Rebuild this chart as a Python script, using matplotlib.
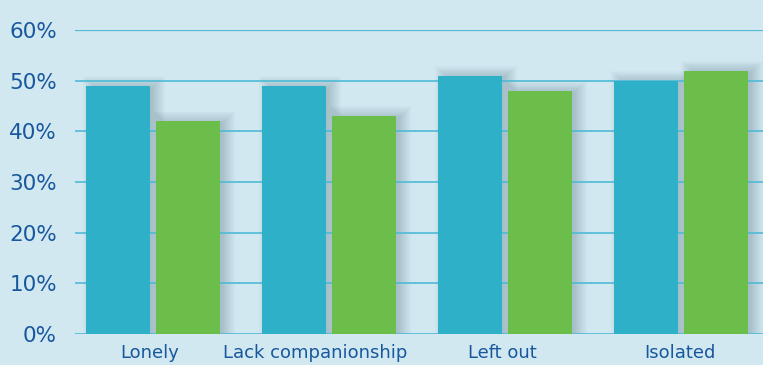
import numpy as np
import matplotlib
matplotlib.use("Agg")
import matplotlib.pyplot as plt
import matplotlib.transforms as mtransforms

categories = ["Lonely", "Lack companionship", "Left out", "Isolated"]
blue_vals = [49, 49, 51, 50]
green_vals = [42, 43, 48, 52]
yticks = [0, 10, 20, 30, 40, 50, 60]

bg = "#d2e8f0"
blue = "#2fb0c9"
green = "#6cbe4a"
grid_col = "#4fbad6"
text_col = "#17579e"

plt.rcParams['font.family'] = ['DejaVu Sans']

fig = plt.figure(figsize=(7.63, 3.65), dpi=100, facecolor=bg)
ax = fig.add_axes([75/763, 1 - 334/365, 1 - 75/763, (334 - 30)/365])
ax.set_facecolor(bg)

x = np.arange(len(categories))
w = 64/176
off = 35/176

# blurred shadow: many faint bars, each a bit bigger, shifted up/right
px = 1/176
py = 60/304
for vals, xc in [(blue_vals, x - off), (green_vals, x + off)]:
    for k in range(14):
        ax.bar(xc + 6*px, np.array(vals) + (k*0.9 - 2)*py, width=w - 8*px + 2*k*px,
               color="#6a8592", alpha=0.03, zorder=2, linewidth=0)

for v in yticks:
    ax.axhline(v, color=grid_col, linewidth=1.6 if v == 60 else 1.2, zorder=2.5)

ax.bar(x - off, blue_vals, width=w, color=blue, zorder=3, linewidth=0)
ax.bar(x + off, green_vals, width=w, color=green, zorder=3, linewidth=0)

ax.set_xlim((75 - 153)/176, (763 - 153)/176)
ax.set_ylim(0, 60)
ax.set_yticks(yticks)
ax.set_yticklabels([f"{v}%" for v in yticks], fontsize=15.5, color=text_col)
ax.set_xticks(x)
ax.set_xticklabels(categories, fontsize=13, color=text_col)
ax.tick_params(axis='y', length=0, pad=13)
ax.tick_params(axis='x', length=0, pad=7)

label_shift = [-3, -14, -3, -1]
for lab, dx in zip(ax.get_xticklabels(), label_shift):
    lab.set_transform(lab.get_transform() + mtransforms.ScaledTranslation(dx/100, 0, fig.dpi_scale_trans))

for s in ax.spines.values():
    s.set_visible(False)

fig.savefig("out.png", dpi=100, facecolor=bg)
